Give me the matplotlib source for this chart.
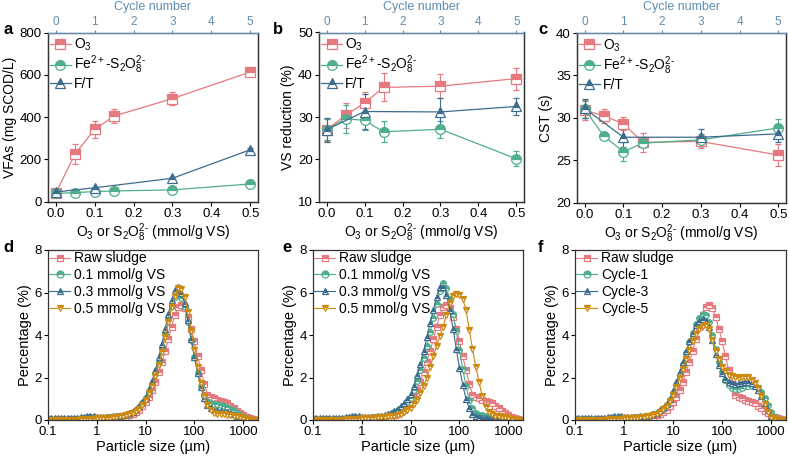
import matplotlib
matplotlib.use("Agg")
import matplotlib.pyplot as plt
from matplotlib.lines import Line2D
from matplotlib.ticker import FixedLocator, NullLocator

plt.rcParams["font.family"] = ["Liberation Sans", "DejaVu Sans"]
plt.rcParams["mathtext.fontset"] = "custom"
plt.rcParams["mathtext.rm"] = "Liberation Sans"
plt.rcParams["mathtext.it"] = "Liberation Sans:italic"
plt.rcParams["mathtext.bf"] = "Liberation Sans:bold"
plt.rcParams["axes.linewidth"] = 0.9
plt.rcParams["axes.edgecolor"] = "#333333"

# colours
c_o3 = "#E5797F"
c_fe = "#4FAE8C"
c_ft = "#3E6C8E"
c_05 = "#CC8A12"
c_cyc = "#5E8DB3"

# ---- top row data: dose (mmol/g VS) ----
dose = [0.0, 0.05, 0.1, 0.15, 0.3, 0.5]
ft_dose = [0.0, 0.1, 0.3, 0.5]

# a: VFAs
vfa_o3 = [40, 226, 341, 405, 487, 613]
vfa_o3_err = [6, 47, 40, 35, 32, 16]
vfa_fe = [38, 42, 47, 50, 55, 83]
vfa_fe_err = [5, 6, 6, 6, 7, 8]
vfa_ft = [45, 65, 110, 245]
vfa_ft_err = [6, 6, 8, 8]

# b: VS reduction
vs_o3 = [27.0, 30.4, 33.3, 37.0, 37.3, 39.1]
vs_o3_err = [2.6, 2.9, 2.5, 3.3, 2.9, 2.6]
vs_fe = [27.0, 29.6, 29.2, 26.5, 27.1, 20.1]
vs_fe_err = [2.5, 3.3, 2.2, 2.5, 2.0, 1.8]
vs_ft = [27.0, 31.3, 31.2, 32.5]
vs_ft_err = [2.8, 4.2, 3.2, 2.1]

# c: CST
cst_o3 = [30.9, 30.2, 29.3, 27.1, 27.2, 25.6]
cst_o3_err = [1.2, 0.8, 0.8, 1.1, 0.8, 1.3]
cst_fe = [31.0, 27.8, 26.0, 27.0, 27.4, 28.8]
cst_fe_err = [1.0, 0.3, 1.1, 0.5, 0.7, 1.0]
cst_ft = [31.1, 27.7, 27.7, 28.1]
cst_ft_err = [1.1, 1.1, 1.0, 1.0]

# ---- bottom row data: particle size distribution ----
size_um = [0.1, 0.1166, 0.1359, 0.1585, 0.1848, 0.2154, 0.2512, 0.2929, 0.3415, 0.3981,
           0.4642, 0.5412, 0.631, 0.7356, 0.8577, 1.0, 1.166, 1.359, 1.585, 1.848,
           2.154, 2.512, 2.929, 3.415, 3.981, 4.642, 5.412, 6.31, 7.356, 8.577,
           10.0, 11.66, 13.59, 15.85, 18.48, 21.54, 25.12, 29.29, 34.15, 39.81,
           46.42, 54.12, 63.1, 73.56, 85.77, 100.0, 116.6, 135.9, 158.5, 184.8,
           215.4, 251.2, 292.9, 341.5, 398.1, 464.2, 541.2, 631.0, 735.6, 857.7,
           1000.0, 1166.0, 1359.0, 1585.0, 1848.0]

raw_sludge = [0.01, 0.01, 0.01, 0.01, 0.01, 0.01, 0.01, 0.01, 0.01, 0.01,
              0.03, 0.04, 0.05, 0.05, 0.05, 0.05, 0.05, 0.05, 0.06, 0.06,
              0.07, 0.08, 0.1, 0.12, 0.15, 0.22, 0.28, 0.36, 0.48, 0.64,
              0.85, 1.1, 1.42, 1.8, 2.25, 2.75, 3.25, 3.8, 4.4, 4.95,
              5.3, 5.42, 5.25, 4.85, 4.3, 3.7, 3.0, 2.35, 1.7, 1.2,
              1.08, 1.02, 0.96, 0.9, 0.84, 0.78, 0.68, 0.56, 0.44, 0.32,
              0.22, 0.15, 0.08, 0.03, 0.01]

d_01 = [0.05, 0.05, 0.05, 0.05, 0.05, 0.05, 0.05, 0.05, 0.05, 0.05,
        0.08, 0.1, 0.12, 0.12, 0.12, 0.11, 0.11, 0.11, 0.12, 0.13,
        0.14, 0.16, 0.18, 0.21, 0.25, 0.3, 0.37, 0.46, 0.6, 0.78,
        1.02, 1.33, 1.7, 2.18, 2.75, 3.38, 4.05, 4.75, 5.35, 5.78,
        5.92, 5.75, 5.3, 4.6, 3.75, 2.95, 2.2, 1.6, 1.15, 0.9,
        0.8, 0.76, 0.74, 0.72, 0.68, 0.62, 0.54, 0.45, 0.35, 0.25,
        0.16, 0.09, 0.04, 0.01, 0.0]
d_03 = [0.08, 0.08, 0.08, 0.08, 0.08, 0.08, 0.08, 0.08, 0.08, 0.08,
        0.12, 0.15, 0.18, 0.18, 0.17, 0.16, 0.15, 0.15, 0.15, 0.16,
        0.17, 0.19, 0.21, 0.24, 0.28, 0.32, 0.4, 0.5, 0.64, 0.85,
        1.1, 1.45, 1.85, 2.35, 2.95, 3.6, 4.3, 5.0, 5.65, 6.1,
        6.25, 6.0, 5.5, 4.7, 3.8, 2.95, 2.2, 1.55, 1.05, 0.72,
        0.55, 0.48, 0.45, 0.43, 0.4, 0.36, 0.31, 0.26, 0.2, 0.14,
        0.09, 0.05, 0.02, 0.0, 0.0]
d_05 = [0.02, 0.02, 0.02, 0.02, 0.02, 0.02, 0.02, 0.02, 0.02, 0.02,
        0.04, 0.05, 0.06, 0.07, 0.07, 0.08, 0.08, 0.09, 0.1, 0.11,
        0.12, 0.14, 0.17, 0.2, 0.24, 0.28, 0.34, 0.42, 0.54, 0.72,
        0.95, 1.25, 1.6, 2.05, 2.6, 3.2, 3.9, 4.6, 5.3, 5.85,
        6.2, 6.15, 5.8, 5.1, 4.2, 3.3, 2.5, 1.75, 1.15, 0.72,
        0.45, 0.35, 0.3, 0.28, 0.26, 0.24, 0.22, 0.2, 0.17, 0.13,
        0.09, 0.05, 0.02, 0.0, 0.0]

e_01 = [0.05, 0.05, 0.05, 0.05, 0.05, 0.05, 0.05, 0.05, 0.05, 0.05,
        0.08, 0.1, 0.12, 0.12, 0.12, 0.11, 0.11, 0.11, 0.12, 0.13,
        0.14, 0.16, 0.18, 0.23, 0.3, 0.38, 0.46, 0.56, 0.68, 0.84,
        1.05, 1.4, 1.85, 2.35, 2.9, 3.5, 4.15, 4.8, 5.45, 6.05,
        6.45, 6.2, 5.7, 5.0, 4.2, 3.3, 2.4, 1.6, 0.95, 0.55,
        0.32, 0.24, 0.22, 0.2, 0.18, 0.16, 0.14, 0.12, 0.1, 0.07,
        0.04, 0.02, 0.01, 0.0, 0.0]
e_03 = [0.08, 0.08, 0.08, 0.08, 0.08, 0.08, 0.08, 0.08, 0.08, 0.08,
        0.12, 0.15, 0.18, 0.18, 0.17, 0.16, 0.15, 0.15, 0.15, 0.16,
        0.17, 0.19, 0.22, 0.27, 0.34, 0.42, 0.52, 0.64, 0.79, 0.98,
        1.22, 1.6, 2.1, 2.65, 3.25, 3.9, 4.55, 5.2, 5.8, 6.25,
        6.25, 5.9, 5.2, 4.3, 3.35, 2.45, 1.65, 1.0, 0.55, 0.3,
        0.18, 0.13, 0.1, 0.08, 0.07, 0.06, 0.05, 0.04, 0.03, 0.02,
        0.01, 0.0, 0.0, 0.0, 0.0]
e_05 = [0.02, 0.02, 0.02, 0.02, 0.02, 0.02, 0.02, 0.02, 0.02, 0.02,
        0.04, 0.05, 0.06, 0.07, 0.07, 0.08, 0.08, 0.09, 0.1, 0.11,
        0.12, 0.13, 0.15, 0.17, 0.18, 0.2, 0.24, 0.3, 0.37, 0.46,
        0.58, 0.74, 0.95, 1.25, 1.6, 2.0, 2.5, 3.0, 3.5, 3.95,
        4.4, 4.95, 5.5, 5.85, 5.92, 5.9, 5.7, 5.2, 4.25, 3.35,
        2.5, 1.78, 1.12, 0.62, 0.37, 0.26, 0.21, 0.18, 0.15, 0.12,
        0.08, 0.05, 0.02, 0.0, 0.0]

f_cycle1 = [0.05, 0.05, 0.05, 0.05, 0.05, 0.05, 0.05, 0.05, 0.05, 0.05,
            0.08, 0.1, 0.12, 0.12, 0.12, 0.11, 0.11, 0.11, 0.12, 0.13,
            0.14, 0.16, 0.18, 0.21, 0.26, 0.32, 0.41, 0.53, 0.7, 0.93,
            1.25, 1.65, 2.1, 2.62, 3.15, 3.65, 4.1, 4.5, 4.82, 5.0,
            4.95, 4.6, 4.0, 3.35, 2.75, 2.25, 1.9, 1.65, 1.52, 1.48,
            1.48, 1.52, 1.58, 1.62, 1.62, 1.58, 1.5, 1.32, 1.05, 0.7,
            0.38, 0.15, 0.04, 0.0, 0.0]
f_cycle3 = [0.08, 0.08, 0.08, 0.08, 0.08, 0.08, 0.08, 0.08, 0.08, 0.08,
            0.12, 0.15, 0.18, 0.18, 0.17, 0.16, 0.15, 0.15, 0.15, 0.16,
            0.17, 0.19, 0.21, 0.24, 0.29, 0.35, 0.45, 0.58, 0.75, 1.0,
            1.35, 1.78, 2.25, 2.75, 3.25, 3.7, 4.1, 4.45, 4.68, 4.75,
            4.65, 4.4, 3.75, 3.1, 2.6, 2.2, 1.95, 1.8, 1.72, 1.7,
            1.72, 1.76, 1.8, 1.8, 1.74, 1.6, 1.42, 1.15, 0.82, 0.48,
            0.2, 0.06, 0.01, 0.0, 0.0]
f_cycle5 = [0.02, 0.02, 0.02, 0.02, 0.02, 0.02, 0.02, 0.02, 0.02, 0.02,
            0.04, 0.05, 0.06, 0.07, 0.07, 0.08, 0.08, 0.09, 0.1, 0.11,
            0.12, 0.14, 0.17, 0.2, 0.25, 0.3, 0.38, 0.5, 0.66, 0.88,
            1.18, 1.55, 1.98, 2.42, 2.88, 3.3, 3.7, 4.05, 4.3, 4.43,
            4.45, 4.3, 3.75, 3.25, 2.85, 2.5, 2.3, 2.12, 2.05, 2.02,
            2.0, 2.03, 2.04, 2.04, 1.9, 1.72, 1.5, 1.15, 0.75, 0.38,
            0.12, 0.03, 0.0, 0.0, 0.0]

xlabel_top = r"O$_3$ or S$_2$O$_8^{2\text{-}}$ (mmol/g VS)"
fe_label = r"Fe$^{2+}$-S$_2$O$_8^{2\text{-}}$"

fig = plt.figure(figsize=(7.89, 4.57), dpi=100)
W, H = 789.0, 457.0


def add_axes(l, r, t, b):
    return fig.add_axes([l / W, 1 - b / H, (r - l) / W, (b - t) / H])


def half(color, marker, ms):
    return dict(marker=marker, ms=ms, color=color, mec=color, mfc=color,
                fillstyle="top", markerfacecoloralt="white", mew=0.9)


def top_panel(ax, o3, o3e, fe, fee, ft, fte, ylim, yticks, ylabel, top_px):
    ax.errorbar(dose, o3, yerr=o3e, lw=0.9, capsize=2.5, elinewidth=0.8, **half(c_o3, "s", 7))
    ax.errorbar(dose, fe, yerr=fee, lw=0.9, capsize=2.5, elinewidth=0.8, **half(c_fe, "o", 7))
    ax.errorbar(ft_dose, ft, yerr=fte, lw=0.9, capsize=2.5, elinewidth=0.8, **half(c_ft, "^", 7))
    ax.set_xlim(-0.02, 0.52)
    ax.set_xticks([0.0, 0.1, 0.2, 0.3, 0.4, 0.5])
    ax.set_ylim(*ylim)
    ax.set_yticks(yticks)
    ax.tick_params(labelsize=9.5, length=3, width=0.8, direction="out", pad=1.5)
    ax.set_xlabel(xlabel_top, fontsize=10, labelpad=1)
    ax.set_ylabel(ylabel, fontsize=10, labelpad=2)
    handles = [Line2D([], [], lw=0.9, **half(c_o3, "s", 7)),
               Line2D([], [], lw=0.9, **half(c_fe, "o", 7)),
               Line2D([], [], lw=0.9, **half(c_ft, "^", 7))]
    ax.legend(handles, [r"O$_3$", fe_label, "F/T"], loc="upper left", frameon=False,
              fontsize=10, handlelength=1.5, handletextpad=0.2, labelspacing=0.05,
              borderpad=0.2, borderaxespad=0.1, bbox_to_anchor=(-0.01, 1.0))
    ax2 = ax.twiny()
    ax2.set_xlim(-0.2, 5.2)
    ax2.set_xticks([0, 1, 2, 3, 4, 5])
    ax2.tick_params(colors=c_cyc, labelsize=8.5, length=2.5, width=0.8, pad=0.8)
    ax2.spines["top"].set_color(c_cyc)
    ax2.set_xlabel("Cycle number", color=c_cyc, fontsize=9, va="top")
    # place the label just under the figure top edge
    ax_h = ax.get_position().height * H
    ax2.xaxis.set_label_coords(0.5, 1.0 + (top_px - 1.0) / ax_h)
    return ax2


def psd_panel(ax, series, labels, colors, markers):
    for y, c, m in zip(series, colors, markers):
        ax.plot(size_um, y, lw=0.8, **half(c, m, 4))
    ax.set_xscale("log")
    ax.set_xlim(0.1, 2000)
    ax.xaxis.set_major_locator(FixedLocator([0.1, 1, 10, 100, 1000]))
    ax.xaxis.set_minor_locator(NullLocator())
    ax.set_xticklabels(["0.1", "1", "10", "100", "1000"])
    ax.set_ylim(0, 8)
    ax.set_yticks([0, 2, 4, 6, 8])
    ax.tick_params(labelsize=9.5, length=3, width=0.8, direction="out", pad=1.5)
    ax.set_xlabel("Particle size (µm)", fontsize=10.5, labelpad=1)
    ax.set_ylabel("Percentage (%)", fontsize=10.5, labelpad=2)
    handles = [Line2D([], [], lw=0.8, **half(c, m, 5)) for c, m in zip(colors, markers)]
    ax.legend(handles, labels, loc="upper left", frameon=False, fontsize=10,
              handlelength=1.5, handletextpad=0.3, labelspacing=0.2, borderpad=0.1,
              borderaxespad=0.0, bbox_to_anchor=(0.0, 1.0))


ax_a = add_axes(48, 258, 32.5, 201.5)
ax_b = add_axes(319, 524, 32.5, 201.5)
ax_c = add_axes(577, 786, 33, 202.5)
ax_d = add_axes(48, 258, 250, 420)
ax_e = add_axes(313, 523, 250, 420)
ax_f = add_axes(575, 786, 250, 420)

top_panel(ax_a, vfa_o3, vfa_o3_err, vfa_fe, vfa_fe_err, vfa_ft, vfa_ft_err,
          (0, 800), [0, 200, 400, 600, 800], "VFAs (mg SCOD/L)", 32.5)
top_panel(ax_b, vs_o3, vs_o3_err, vs_fe, vs_fe_err, vs_ft, vs_ft_err,
          (10, 50), [10, 20, 30, 40, 50], "VS reduction (%)", 32.5)
top_panel(ax_c, cst_o3, cst_o3_err, cst_fe, cst_fe_err, cst_ft, cst_ft_err,
          (20, 40), [20, 25, 30, 35, 40], "CST (s)", 33)

psd_colors = [c_o3, c_fe, c_ft, c_05]
psd_markers = ["s", "o", "^", "v"]
psd_panel(ax_d, [raw_sludge, d_01, d_03, d_05],
          ["Raw sludge", "0.1 mmol/g VS", "0.3 mmol/g VS", "0.5 mmol/g VS"],
          psd_colors, psd_markers)
psd_panel(ax_e, [raw_sludge, e_01, e_03, e_05],
          ["Raw sludge", "0.1 mmol/g VS", "0.3 mmol/g VS", "0.5 mmol/g VS"],
          psd_colors, psd_markers)
psd_panel(ax_f, [raw_sludge, f_cycle1, f_cycle3, f_cycle5],
          ["Raw sludge", "Cycle-1", "Cycle-3", "Cycle-5"],
          psd_colors, psd_markers)

# panel letters
for lab, x, y in [("a", 3, 30), ("b", 273, 30), ("c", 538, 30),
                  ("d", 3, 247), ("e", 282, 247), ("f", 538, 247)]:
    fig.text(x / W, 1 - y / H, lab, fontsize=12, fontweight="bold", ha="left", va="center")

fig.savefig("out.png", dpi=100)
